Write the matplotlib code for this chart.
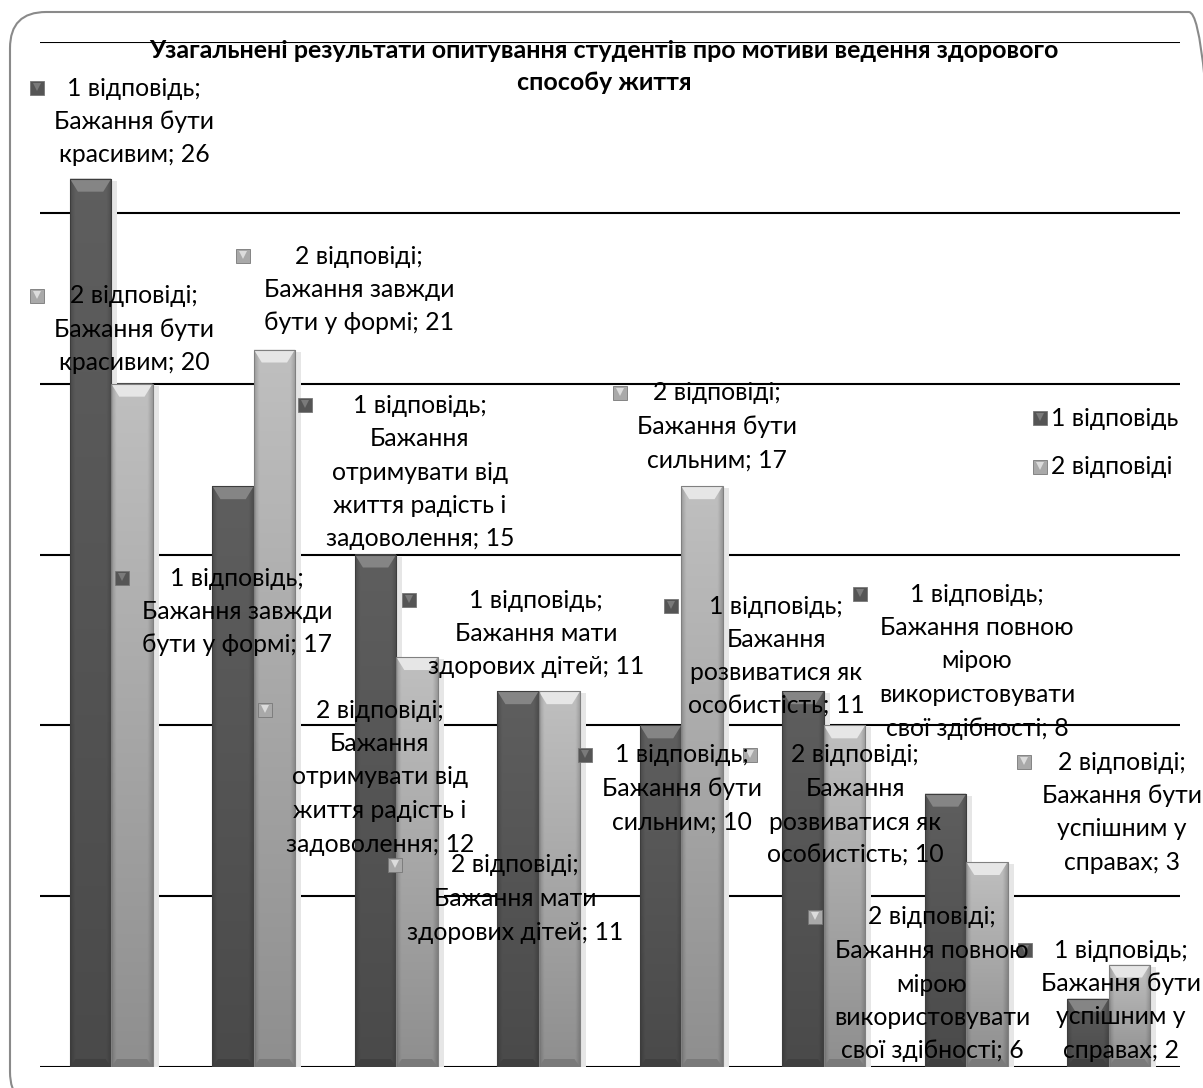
import numpy as np
import matplotlib
matplotlib.use("Agg")
import matplotlib.pyplot as plt
from matplotlib.patches import Rectangle, Polygon, FancyBboxPatch

plt.rcParams['font.family'] = ['Lato', 'Open Sans', 'DejaVu Sans']

# ---- data ----
categories = [
    "Бажання бути\nкрасивим",
    "Бажання завжди\nбути у формі",
    "Бажання\nотримувати від\nжиття радість і\nзадоволення",
    "Бажання мати\nздорових дітей",
    "Бажання бути\nсильним",
    "Бажання\nрозвиватися як\nособистість",
    "Бажання повною\nмірою\nвикористовувати\nсвої здібності",
    "Бажання бути\nуспішним у\nсправах",
]
series_names = ["1 відповідь", "2 відповіді"]
answers_1 = [26, 17, 15, 11, 10, 11, 8, 2]
answers_2 = [20, 21, 12, 11, 17, 10, 6, 3]
title = ("Узагальнені результати опитування студентів про мотиви ведення здорового\n"
         "способу життя")

# ---- layout (figure pixels) ----
W, H = 1203, 1088
fig = plt.figure(figsize=(W / 100, H / 100), dpi=100)
ax_left, ax_right, ax_top, ax_bottom = 40, 1180, 42, 1067
ax = fig.add_axes([ax_left / W, 1 - ax_bottom / H,
                   (ax_right - ax_left) / W, (ax_bottom - ax_top) / H])
ax.set_xlim(-0.5, len(categories) - 0.5)
ax.set_ylim(0, 30)
ax.set_yticks(np.arange(0, 31, 5))
ax.set_xticks([])
ax.tick_params(left=False, labelleft=False)
for s in ax.spines.values():
    s.set_visible(False)
ax.yaxis.grid(True, color="black", linewidth=1.5)
ax.set_axisbelow(True)

px_x = (ax_right - ax_left) / len(categories)   # pixels per x unit
px_y = (ax_bottom - ax_top) / 30.0              # pixels per y unit

bar_w = 0.29
palettes = {
    0: dict(top=0.37, bottom=0.29, cap=0.52, edge=0.24, base=0.25),
    1: dict(top=0.75, bottom=0.56, cap=0.90, edge=0.50, base=0.48),
}


def draw_bar(x0, h, pal):
    w = bar_w
    # soft shadow to the right of the bar
    sx = 4 / px_x
    ax.add_patch(Rectangle((x0 + sx * 0.5, 0), w + sx, h - 2 / px_y,
                           facecolor="0.9", edgecolor="none", zorder=1.5))
    # body: vertical gradient with darker side strips
    ny, nx = 64, 40
    v = np.linspace(pal["top"], pal["bottom"], ny)[:, None]
    u = np.linspace(0, 1, nx)[None, :]
    side = np.clip(np.minimum(u, 1 - u) / 0.12, 0, 1)
    img = v * (0.82 + 0.18 * side)
    rect = Rectangle((x0, 0), w, h, facecolor="none", edgecolor="none")
    ax.add_patch(rect)
    im = ax.imshow(np.dstack([img] * 3), extent=(x0, x0 + w, 0, h),
                   aspect="auto", origin="upper", zorder=2, interpolation="bilinear")
    im.set_clip_path(rect)
    dx = 8 / px_x
    dy = min(13 / px_y, h / 2)
    # top bevel (lighter)
    ax.add_patch(Polygon([(x0, h), (x0 + w, h), (x0 + w - dx, h - dy), (x0 + dx, h - dy)],
                         closed=True, facecolor=[pal["cap"]] * 3, edgecolor="none", zorder=3))
    # bottom bevel (darker)
    dyb = min(8 / px_y, h / 3)
    ax.add_patch(Polygon([(x0, 0), (x0 + w, 0), (x0 + w - dx * 0.7, dyb), (x0 + dx * 0.7, dyb)],
                         closed=True, facecolor=[pal["base"]] * 3, edgecolor="none", zorder=3))
    ax.add_patch(Rectangle((x0, 0), w, h, facecolor="none",
                           edgecolor=[pal["edge"]] * 3, linewidth=0.8, zorder=4))


x = np.arange(len(categories))
for i in range(len(categories)):
    draw_bar(x[i] - bar_w, answers_1[i], palettes[0])
    draw_bar(x[i], answers_2[i], palettes[1])

# ---- markers and text helpers (figure pixel coordinates) ----
marker_cols = {0: ("#555555", "#7a7a7a"), 1: ("#a9a9a9", "#dcdcdc")}


def marker(px, py, s):
    fc, hc = marker_cols[s]
    fx, fy = px / W, 1 - py / H
    fig.add_artist(plt.Line2D([fx], [fy], marker="s", markersize=10, color=fc,
                              markeredgecolor="#777777", markeredgewidth=0.6,
                              transform=fig.transFigure))
    fig.add_artist(plt.Line2D([fx], [fy + 1.5 / H], marker="v", markersize=6, color=hc,
                              markeredgewidth=0, transform=fig.transFigure))


fs_label = 17.8
line_h = 33.5


def label(lines, cx, y0):
    for k, ln in enumerate(lines):
        fig.text(cx / W, 1 - (y0 + k * line_h) / H, ln, ha="center", va="center",
                 fontsize=fs_label, color="black", zorder=10)


# data label placement: (marker x, text centre x, first-line y)
label_pos_1 = [(37, 134, 88), (122, 237, 578), (305, 420, 405), (409, 536, 600),
               (585, 682, 755), (671, 776, 606), (860, 977, 594), (1025, 1121, 950)]
label_pos_2 = [(37, 134, 296), (243, 359, 256), (265, 380, 710), (395, 515, 865),
               (620, 717, 393), (750, 855, 755), (815, 932, 917), (1024, 1122, 762)]

for s, (vals, pos) in enumerate([(answers_1, label_pos_1), (answers_2, label_pos_2)]):
    for i, (mx, cx, y0) in enumerate(pos):
        cat_lines = categories[i].split("\n")
        lines = [series_names[s] + ";"] + cat_lines[:-1] + [f"{cat_lines[-1]}; {vals[i]}"]
        marker(mx, y0, s)
        label(lines, cx, y0)

# legend
for s, ly in enumerate([418, 467]):
    marker(1040, ly, s)
    fig.text(1051 / W, 1 - ly / H, series_names[s], ha="left", va="center",
             fontsize=fs_label, color="black")

# title
fig.text(604 / W, 1 - 50 / H, title.split("\n")[0], ha="center", va="center",
         fontsize=18, fontweight="bold")
fig.text(604 / W, 1 - 83 / H, title.split("\n")[1], ha="center", va="center",
         fontsize=18, fontweight="bold")

# chart area frame with rounded corners
frame = FancyBboxPatch((10 / W, -20 / H), 1215 / W, (1088 - 12 + 20) / H,
                       boxstyle="round,pad=0,rounding_size=0.03",
                       transform=fig.transFigure, facecolor="none",
                       edgecolor="#8a8a8a", linewidth=1.5, mutation_aspect=W / H)
fig.add_artist(frame)

fig.savefig("out.png", dpi=100)
